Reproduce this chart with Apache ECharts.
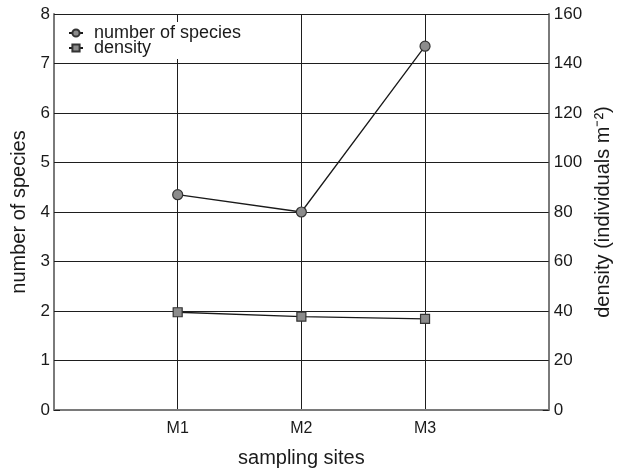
<!DOCTYPE html>
<html>
<head>
<meta charset="utf-8">
<script src="https://cdn.jsdelivr.net/npm/echarts@6/dist/echarts.min.js"></script>
<style>
  html, body { margin: 0; padding: 0; background: #fff; }
  #chart { width: 621px; height: 473px; }
</style>
</head>
<body>
<div id="chart"></div>
<script>
// Sampling sites along the x axis (placed at positions 1..3)
const sites = ['M1', 'M2', 'M3'];
// Number of species per site (left axis)
const speciesCount = [4.35, 4.0, 7.35];
// Density per site, individuals m^-2 (right axis)
const density = [39.5, 37.7, 36.8];

const FONT = '"Liberation Sans", Arial, sans-serif';
const TEXT = '#1a1a1a';
const AXIS = '#7a7a7a';
const GRID = '#1e1e1e';

const chart = echarts.init(document.getElementById('chart'), null, { renderer: 'canvas' });

const toPoints = arr => arr.map((v, i) => [i + 1, v]);

chart.setOption({
  animation: false,
  backgroundColor: '#fff',
  textStyle: { fontFamily: FONT, color: TEXT },
  grid: { left: 54, right: 72, top: 14, bottom: 58, containLabel: false },
  legend: {
    orient: 'vertical',
    left: 60,
    top: 22,
    padding: [2, 8, 2, 8],
    itemGap: -3,
    itemWidth: 14,
    itemHeight: 9,
    backgroundColor: '#fff',
    textStyle: { fontFamily: FONT, fontSize: 18, color: TEXT, lineHeight: 15, padding: [0, 0, 0, 6] },
    data: ['number of species', 'density']
  },
  xAxis: {
    type: 'value',
    min: 0,
    max: 4,
    interval: 1,
    name: 'sampling sites',
    nameLocation: 'middle',
    nameGap: 38,
    nameTextStyle: { fontFamily: FONT, fontSize: 20, color: TEXT },
    axisLine: { lineStyle: { color: AXIS, width: 2 } },
    axisTick: { show: false },
    axisLabel: {
      fontFamily: FONT, fontSize: 16, color: TEXT, margin: 11,
      formatter: v => (v >= 1 && v <= sites.length ? sites[v - 1] : '')
    },
    splitLine: { show: true, lineStyle: { color: GRID, width: 1 } }
  },
  yAxis: [
    {
      type: 'value',
      min: 0,
      max: 8,
      interval: 1,
      position: 'left',
      name: 'number of species',
      nameLocation: 'middle',
      nameGap: 20,
      nameTextStyle: { fontFamily: FONT, fontSize: 20, color: TEXT },
      axisLine: { show: true, lineStyle: { color: AXIS, width: 2 } },
      axisTick: { show: true, inside: true, length: 6, lineStyle: { color: GRID, width: 1 } },
      axisLabel: { fontFamily: FONT, fontSize: 17, color: TEXT, margin: 4 },
      splitLine: { show: true, lineStyle: { color: GRID, width: 1 } }
    },
    {
      type: 'value',
      min: 0,
      max: 160,
      interval: 20,
      position: 'right',
      name: 'density (individuals m\u207B\u00B2)',
      nameLocation: 'middle',
      nameRotate: 90,
      nameGap: 44,
      nameTextStyle: { fontFamily: FONT, fontSize: 20, color: TEXT },
      axisLine: { show: true, lineStyle: { color: AXIS, width: 2 } },
      axisTick: { show: true, inside: true, length: 6, lineStyle: { color: GRID, width: 1 } },
      axisLabel: { fontFamily: FONT, fontSize: 17, color: TEXT, margin: 5 },
      splitLine: { show: false }
    }
  ],
  series: [
    {
      name: 'number of species',
      type: 'line',
      yAxisIndex: 0,
      data: toPoints(speciesCount),
      symbol: 'circle',
      symbolSize: 10,
      z: 5,
      lineStyle: { color: '#1a1a1a', width: 1.3 },
      itemStyle: { color: '#8c8c8c', borderColor: '#333', borderWidth: 1.2 }
    },
    {
      name: 'density',
      type: 'line',
      yAxisIndex: 1,
      data: toPoints(density),
      symbol: 'rect',
      symbolSize: 9,
      z: 5,
      lineStyle: { color: '#1a1a1a', width: 1.3 },
      itemStyle: { color: '#8c8c8c', borderColor: '#333', borderWidth: 1.2 }
    }
  ]
});
</script>
</body>
</html>
